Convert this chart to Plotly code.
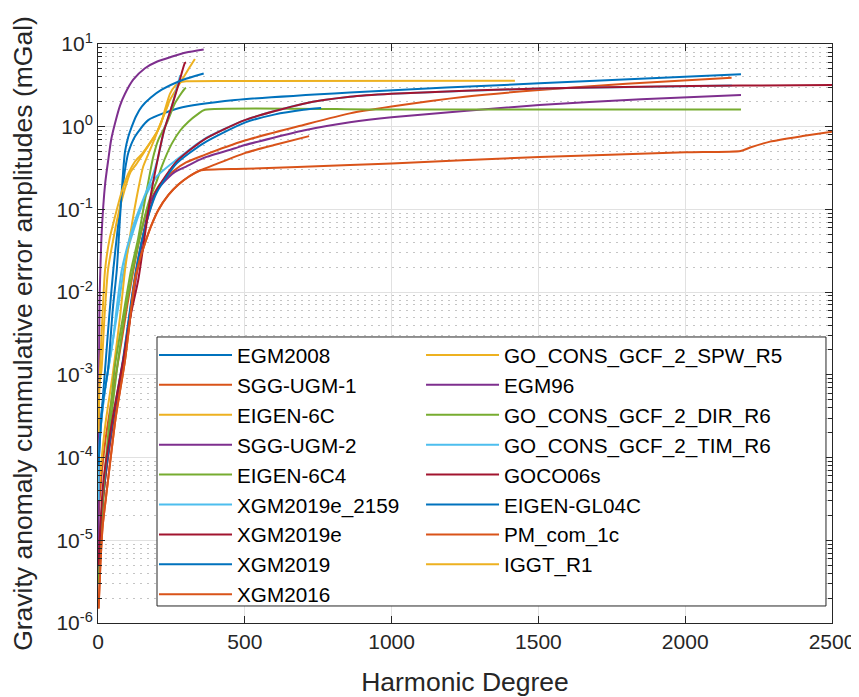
import plotly.graph_objects as go

# ---- data: harmonic degree / cumulative error amplitude (mGal) ----
egm2008_deg = [2, 8, 16, 24, 38, 52, 65, 80, 92, 103, 126, 171, 274, 467, 858, 1503, 2190]
egm2008_val = [1e-4, 2.5e-4, 5e-4, 1.15e-3, 5e-3, 0.0185, 0.05, 0.14, 0.3, 0.48, 0.76, 1.2, 1.67, 2.1, 2.6, 3.35, 4.3]

sgg1_deg = [2, 10, 24, 50, 80, 100, 120, 145, 175, 210, 256, 300, 359, 500, 700, 858, 1000, 1250, 1503, 1800, 2158]
sgg1_val = [2e-5, 5e-5, 1.5e-4, 6e-4, 2.5e-3, 7e-3, 0.018, 0.05, 0.12, 0.2, 0.29, 0.37, 0.45, 0.68, 1.05, 1.45, 1.75, 2.3, 2.78, 3.3, 3.9]

eigen6c_deg = [2, 5, 12, 22, 34, 50, 70, 90, 110, 130, 150, 175, 200, 215, 228, 245, 262, 280, 300, 500, 1420]
eigen6c_val = [5e-4, 8e-4, 1.15e-3, 5e-3, 0.0185, 0.04, 0.09, 0.17, 0.28, 0.35, 0.45, 0.62, 0.85, 1.1, 1.6, 2.5, 3.1, 3.45, 3.55, 3.58, 3.6]

sgg2_deg = [2, 10, 20, 50, 85, 110, 130, 155, 177, 200, 222, 260, 300, 360, 467, 500, 700, 858, 1000, 1503, 1850, 2190]
sgg2_val = [5e-6, 1.5e-5, 4e-5, 2.5e-4, 1.3e-3, 5e-3, 0.015, 0.05, 0.12, 0.17, 0.21, 0.28, 0.33, 0.42, 0.55, 0.6, 0.9, 1.13, 1.3, 1.83, 2.15, 2.42]

eigen6c4_deg = [2, 20, 45, 65, 90, 118, 145, 175, 200, 217, 251, 280, 308, 340, 364, 1000, 2190]
eigen6c4_val = [4e-6, 4e-5, 3e-4, 1.2e-3, 5e-3, 0.018, 0.05, 0.13, 0.22, 0.33, 0.62, 0.9, 1.15, 1.42, 1.6, 1.61, 1.62]

xgm2019e2159_deg = [2, 3, 10, 25, 50, 70, 85, 104, 130, 160, 200, 268, 359, 500, 700, 858, 1000, 1503, 2159]
xgm2019e2159_val = [3e-5, 1e-4, 2.5e-4, 7e-4, 2.5e-3, 7e-3, 0.016, 0.035, 0.07, 0.14, 0.25, 0.4, 0.7, 1.2, 1.9, 2.3, 2.5, 2.9, 3.14]

xgm2019e_deg = [2, 20, 50, 86, 110, 130, 160, 200, 268, 359, 500, 700, 858, 1000, 1250, 1503, 1850, 2189, 2500]
xgm2019e_val = [6e-6, 4e-5, 2.5e-4, 1.5e-3, 6e-3, 0.018, 0.06, 0.17, 0.38, 0.69, 1.2, 1.9, 2.3, 2.5, 2.72, 2.9, 3.05, 3.15, 3.19]

xgm2019_deg = [2, 20, 50, 86, 110, 130, 160, 200, 268, 359, 500, 600, 700, 760]
xgm2019_val = [8e-6, 4.5e-5, 2.8e-4, 1.6e-3, 6.5e-3, 0.019, 0.06, 0.16, 0.36, 0.63, 1.12, 1.4, 1.6, 1.68]

xgm2016_deg = [2, 8, 16, 30, 60, 92, 110, 126, 143, 160, 180, 205, 240, 274, 310, 347, 400, 500, 600, 719]
xgm2016_val = [1.5e-6, 5e-6, 1.5e-5, 4e-5, 3e-4, 1.5e-3, 5e-3, 0.014, 0.025, 0.039, 0.062, 0.098, 0.15, 0.2, 0.25, 0.295, 0.35, 0.48, 0.6, 0.77]

spw_deg = [2, 10, 25, 50, 75, 92, 110, 130, 154, 177, 200, 222, 245, 279, 313, 330]
spw_val = [4e-5, 8e-5, 2.5e-4, 1e-3, 5e-3, 0.0185, 0.05, 0.13, 0.33, 0.52, 0.83, 1.32, 2.1, 3.35, 5.3, 6.6]

egm96_deg = [2, 3, 4, 5, 7, 12.5, 24, 35, 45, 58, 75, 92, 120, 160, 200, 250, 300, 360]
egm96_val = [4e-6, 1e-4, 2e-3, 7e-3, 0.014, 0.052, 0.2, 0.4, 0.7, 1.1, 1.8, 2.5, 3.7, 5.1, 6.1, 7.0, 7.9, 8.6]

dir_deg = [2, 18, 40, 58, 85, 112, 137, 160, 188, 205, 234, 262, 296, 300]
dir_val = [3e-6, 4e-5, 3e-4, 1.3e-3, 5e-3, 0.018, 0.045, 0.13, 0.43, 0.69, 1.1, 1.92, 2.9, 2.95]

tim_deg = [2, 3, 10, 25, 50, 65, 81, 104, 130, 160, 185, 203, 225, 250, 280]
tim_val = [3e-5, 1e-4, 2.5e-4, 7e-4, 2.5e-3, 7e-3, 0.0185, 0.04, 0.08, 0.15, 0.25, 0.4, 0.9, 1.7, 4.2]

goco06s_deg = [2, 18, 50, 86, 110, 137, 160, 177, 203, 225, 250, 275, 296, 300]
goco06s_val = [5e-6, 5e-5, 3e-4, 1.5e-3, 5e-3, 0.014, 0.05, 0.13, 0.4, 0.9, 1.7, 3.3, 5.9, 6.0]

gl04c_deg = [2, 8, 18, 34, 50, 64, 75, 86, 92, 103, 115, 130, 149, 180, 217, 290, 360]
gl04c_val = [8e-5, 2e-4, 5e-4, 1.15e-3, 6e-3, 0.0185, 0.08, 0.3, 0.5, 0.75, 1.0, 1.35, 1.75, 2.25, 2.8, 3.7, 4.4]

pm_deg = [2, 8, 16, 30, 60, 92, 110, 126, 143, 160, 180, 205, 240, 274, 310, 347, 500, 858, 1000, 1503, 2000, 2189, 2221, 2289, 2400, 2500]
pm_val = [1.5e-6, 5e-6, 1.5e-5, 4e-5, 3e-4, 1.5e-3, 5e-3, 0.014, 0.025, 0.039, 0.062, 0.098, 0.15, 0.2, 0.25, 0.295, 0.31, 0.344, 0.36, 0.43, 0.49, 0.51, 0.56, 0.66, 0.77, 0.87]

iggt_deg = [2, 4, 7, 15, 24, 40, 58, 80, 103, 126, 150, 175, 200, 220, 240]
iggt_val = [2e-4, 6e-4, 1.15e-3, 5e-3, 0.0185, 0.045, 0.082, 0.16, 0.27, 0.38, 0.47, 0.62, 0.85, 1.25, 1.9]

names = ["EGM2008", "SGG-UGM-1", "EIGEN-6C", "SGG-UGM-2", "EIGEN-6C4", "XGM2019e_2159",
         "XGM2019e", "XGM2019", "XGM2016", "GO_CONS_GCF_2_SPW_R5", "EGM96",
         "GO_CONS_GCF_2_DIR_R6", "GO_CONS_GCF_2_TIM_R6", "GOCO06s", "EIGEN-GL04C",
         "PM_com_1c", "IGGT_R1"]
degs = [egm2008_deg, sgg1_deg, eigen6c_deg, sgg2_deg, eigen6c4_deg, xgm2019e2159_deg,
        xgm2019e_deg, xgm2019_deg, xgm2016_deg, spw_deg, egm96_deg, dir_deg, tim_deg,
        goco06s_deg, gl04c_deg, pm_deg, iggt_deg]
vals = [egm2008_val, sgg1_val, eigen6c_val, sgg2_val, eigen6c4_val, xgm2019e2159_val,
        xgm2019e_val, xgm2019_val, xgm2016_val, spw_val, egm96_val, dir_val, tim_val,
        goco06s_val, gl04c_val, pm_val, iggt_val]

palette = ["#0072BD", "#D95319", "#EDB120", "#7E2F8E", "#77AC30", "#4DBEEE", "#A2142F"]

y_tickvals = [1e-6, 1e-5, 1e-4, 1e-3, 1e-2, 1e-1, 1, 10]
y_ticktext = ["10<sup>-6</sup>", "10<sup>-5</sup>", "10<sup>-4</sup>", "10<sup>-3</sup>",
              "10<sup>-2</sup>", "10<sup>-1</sup>", "10<sup>0</sup>", "10<sup>1</sup>"]
x_tickvals = [0, 500, 1000, 1500, 2000, 2500]

n_rows = 9
fig = go.Figure()
for i, (nm, d, v) in enumerate(zip(names, degs, vals)):
    fig.add_trace(go.Scatter(
        x=d, y=v, name=nm, mode="lines",
        line=dict(color=palette[i % 7], width=2, shape="spline", smoothing=0.6),
        legend="legend" if i < n_rows else "legend2",
    ))

axis_col = "#262626"
leg_common = dict(orientation="v", xanchor="left", yanchor="top",
                  bgcolor="rgba(0,0,0,0)", borderwidth=0,
                  font=dict(size=20.7, color="black", family="Liberation Sans, Arial, sans-serif"),
                  itemwidth=73, tracegroupgap=0)
# the page adds an 8px body margin, so the figure is 8px smaller on each side
fig.update_layout(
    width=851, height=689,
    margin=dict(l=90, r=27, t=36, b=74),
    paper_bgcolor="white", plot_bgcolor="white",
    font=dict(family="Liberation Sans, Arial, sans-serif", color=axis_col, size=21),
    showlegend=True,
    legend=dict(x=0.0763, y=0.4974, **leg_common),
    legend2=dict(x=0.4401, y=0.4974, **leg_common),
    shapes=[dict(type="rect", xref="paper", yref="paper",
                 x0=0.0804, x1=0.9918, y0=0.0294, y1=0.494,
                 line=dict(color=axis_col, width=1), fillcolor="white", layer="above")],
)
fig.update_xaxes(
    range=[0, 2500], tickvals=x_tickvals, showgrid=True, gridcolor="#e1e1e1", gridwidth=1,
    ticks="inside", ticklen=7, tickcolor=axis_col, showline=True, linecolor=axis_col,
    linewidth=1, mirror="ticks", zeroline=False, automargin=False,
    title=dict(text="Harmonic Degree", font=dict(size=26.5, color=axis_col), standoff=22),
    tickfont=dict(size=21),
)
fig.update_yaxes(
    type="log", range=[-6, 1], tickvals=y_tickvals, ticktext=y_ticktext,
    showgrid=True, gridcolor="#e1e1e1", gridwidth=1,
    ticks="inside", ticklen=7, tickcolor=axis_col, showline=True, linecolor=axis_col,
    linewidth=1, mirror="ticks", zeroline=False, automargin=False,
    minor=dict(ticks="inside", ticklen=4, tickcolor=axis_col, showgrid=True,
               gridcolor="#c4c4c4", griddash="2px,5px", gridwidth=1, dtick="D1"),
    title=dict(text="Gravity anomaly cummulative error amplitudes (mGal)",
               font=dict(size=26.5, color=axis_col), standoff=18),
    tickfont=dict(size=21),
)
fig.write_html("out.html")
